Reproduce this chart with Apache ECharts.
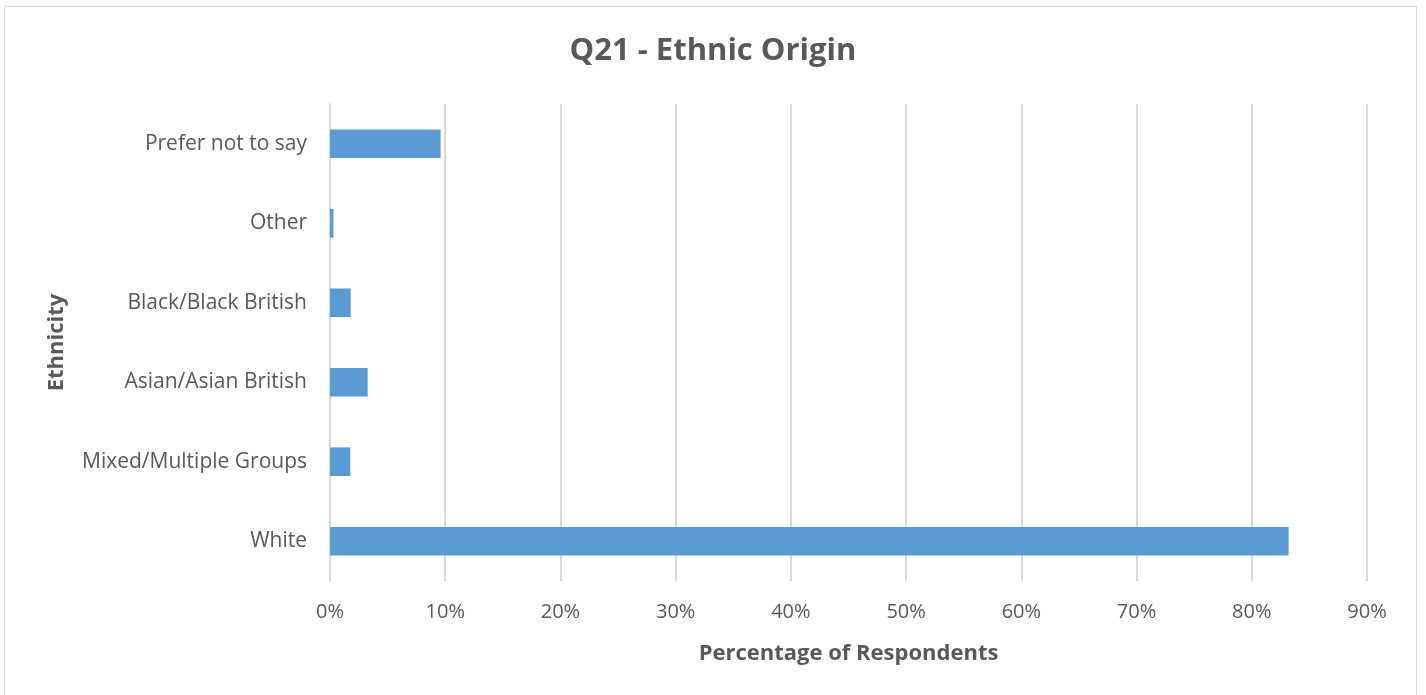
<!DOCTYPE html>
<html><head><meta charset="utf-8">
<script src="https://cdn.jsdelivr.net/npm/echarts@6/dist/echarts.min.js"></script>
<style>html,body{margin:0;padding:0;background:#fff}#c{width:1426px;height:695px}</style>
</head><body><div id="c"></div>
<script>
const categories = ['White','Mixed/Multiple Groups','Asian/Asian British','Black/Black British','Other','Prefer not to say'];
const values = [83.2, 1.76, 3.27, 1.8, 0.3, 9.6];
const xTicks = [0,10,20,30,40,50,60,70,80,90];
const titleText = 'Q21 - Ethnic Origin';
const xName = 'Percentage of Respondents';
const yName = 'Ethnicity';

const chart = echarts.init(document.getElementById('c'), null, {renderer:'canvas'});
const font = '"Open Sans", "Noto Sans", sans-serif';
chart.setOption({
  animation:false,
  backgroundColor:'#fff',
  title:{text:titleText,left:'center',top:31,textStyle:{fontFamily:font,fontSize:31,fontWeight:'bold',color:'#595959'}},
  graphic:[{type:'rect',shape:{x:4.5,y:6.5,width:1412,height:700},style:{fill:'none',stroke:'#d9d9d9',lineWidth:1}}],
  grid:{left:330,right:59,top:104,bottom:114,containLabel:false},
  xAxis:{type:'value',min:0,max:90,interval:10,
    name:xName,nameLocation:'middle',nameGap:62,
    nameTextStyle:{fontFamily:font,fontSize:22,fontWeight:'bold',color:'#595959'},
    axisLine:{show:false},axisTick:{show:false},
    axisLabel:{margin:21,fontFamily:font,fontSize:20,color:'#595959',formatter:v=>xTicks.includes(v)?v+'%':''},
    splitLine:{show:true,lineStyle:{color:'#d9d9d9',width:2}}},
  yAxis:{type:'category',data:categories,
    name:yName,nameLocation:'middle',nameGap:262,nameRotate:90,
    nameTextStyle:{fontFamily:font,fontSize:22,fontWeight:'bold',color:'#595959'},
    axisLine:{show:true,lineStyle:{color:'#d9d9d9',width:2}},axisTick:{show:false},
    axisLabel:{margin:23,fontFamily:font,fontSize:21,color:'#595959'}},
  series:[{type:'bar',data:values,barWidth:'36%',itemStyle:{color:'#5b9bd5'}}]
});
</script></body></html>
